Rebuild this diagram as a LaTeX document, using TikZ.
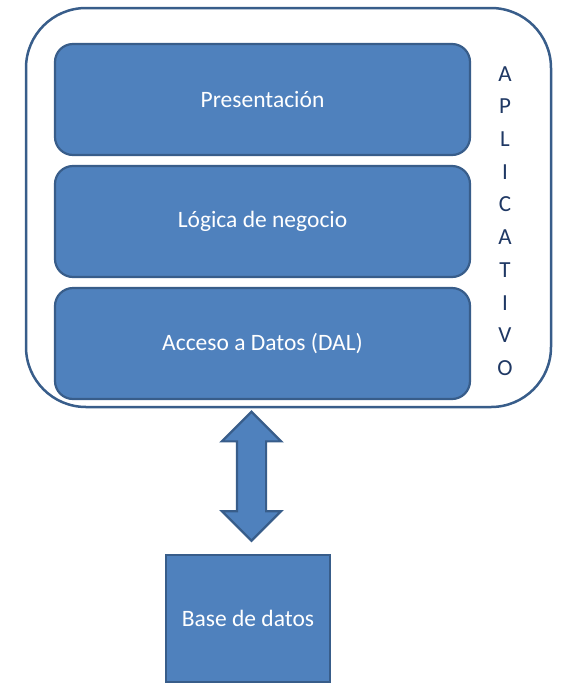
\documentclass[tikz,border=0pt]{standalone}
\usepackage{fontspec}
\setmainfont{Carlito}
\usepackage{tikz}
\usetikzlibrary{positioning,calc,shapes.arrows}
\definecolor{layerblue}{HTML}{4F81BD}
\definecolor{layeredge}{HTML}{385D8A}
\definecolor{lettering}{HTML}{1F3864}
\tikzstyle{container} = [rectangle, draw=layeredge, fill=white, line width=2.5pt, rounded corners=60pt, minimum width=525pt, minimum height=399pt]
\tikzstyle{layer} = [rectangle, draw=layeredge, fill=layerblue, line width=2.2pt, rounded corners=18pt, minimum width=415pt, minimum height=111pt, text=white, font=\fontsize{23.5}{28}\selectfont]
\tikzstyle{storage} = [rectangle, draw=layeredge, fill=layerblue, line width=2.5pt, minimum width=164pt, minimum height=127pt, text=white, font=\fontsize{23.5}{28}\selectfont]
\tikzstyle{vertical} = [align=center, text=lettering, font=\fontsize{23}{32.7}\selectfont]
\tikzstyle{link} = [double arrow, draw=layeredge, fill=layerblue, line width=2.2pt, rotate=90, minimum height=129pt, minimum width=57pt, inner xsep=0pt, inner ysep=13.5pt, double arrow head extend=15pt]

\begin{document}
\begin{tikzpicture}[x=1pt, y=-1pt]
        \useasboundingbox (0,0) rectangle (565,694);
        \node (app) [container] at (288.5,207.5) {};
        \node (pres) [layer] at (262.5,99.5) {Presentación};
        \node (logic) [layer, below=8.8pt of pres] {Lógica de negocio};
        \node (dal) [layer, below=8.8pt of logic] {Acceso a Datos (DAL)};
        \node (title) [vertical] at (505,221) {A\\P\\L\\I\\C\\A\\T\\I\\V\\O};
        \node (db) [storage] at (248,618.5) {Base de datos};
        \node (link) [link] at ($(db.north)+(3.5,-77.5)$) {};
    \end{tikzpicture}
\end{document}
